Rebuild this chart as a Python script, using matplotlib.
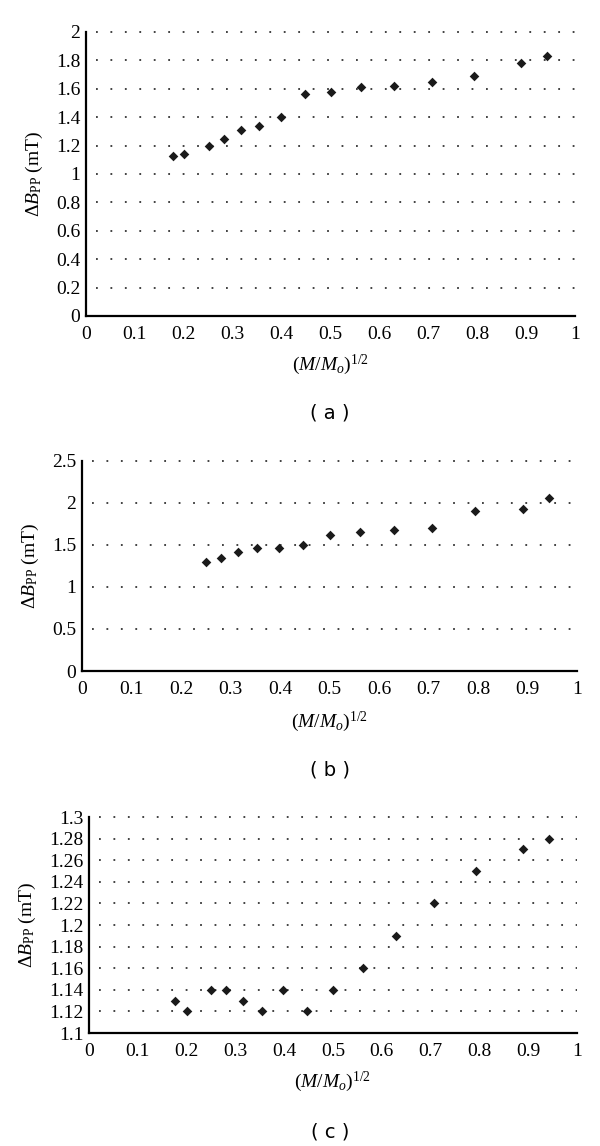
import matplotlib
matplotlib.use("Agg")
import matplotlib.pyplot as plt

plt.rcParams['font.family'] = ['Liberation Serif', 'DejaVu Serif']
plt.rcParams['mathtext.fontset'] = 'custom'
plt.rcParams['mathtext.rm'] = 'Liberation Serif'
plt.rcParams['mathtext.it'] = 'Liberation Serif:italic'
plt.rcParams['mathtext.bf'] = 'Liberation Serif:bold'

# Panel (a)
xa = [0.178, 0.200, 0.251, 0.282, 0.316, 0.354, 0.398, 0.447, 0.500, 0.562, 0.630, 0.707, 0.793, 0.890, 0.943]
ya = [1.13, 1.14, 1.20, 1.25, 1.31, 1.34, 1.40, 1.56, 1.58, 1.61, 1.62, 1.65, 1.69, 1.78, 1.83]
yticks_a = [0, 0.2, 0.4, 0.6, 0.8, 1, 1.2, 1.4, 1.6, 1.8, 2]
ylabels_a = ['0', '0.2', '0.4', '0.6', '0.8', '1', '1.2', '1.4', '1.6', '1.8', '2']

# Panel (b)
xb = [0.251, 0.281, 0.315, 0.354, 0.398, 0.446, 0.500, 0.562, 0.630, 0.707, 0.793, 0.890, 0.943]
yb = [1.30, 1.34, 1.42, 1.46, 1.47, 1.50, 1.62, 1.65, 1.68, 1.70, 1.90, 1.93, 2.06]
yticks_b = [0, 0.5, 1, 1.5, 2, 2.5]
ylabels_b = ['0', '0.5', '1', '1.5', '2', '2.5']

# Panel (c)
xc = [0.177, 0.200, 0.250, 0.281, 0.315, 0.354, 0.397, 0.446, 0.500, 0.561, 0.630, 0.707, 0.793, 0.890, 0.943]
yc = [1.13, 1.12, 1.14, 1.14, 1.13, 1.12, 1.14, 1.12, 1.14, 1.16, 1.19, 1.22, 1.25, 1.27, 1.28]
yticks_c = [1.1, 1.12, 1.14, 1.16, 1.18, 1.2, 1.22, 1.24, 1.26, 1.28, 1.3]
ylabels_c = ['1.1', '1.12', '1.14', '1.16', '1.18', '1.2', '1.22', '1.24', '1.26', '1.28', '1.3']

xticks = [0, 0.1, 0.2, 0.3, 0.4, 0.5, 0.6, 0.7, 0.8, 0.9, 1]
xlabels = ['0', '0.1', '0.2', '0.3', '0.4', '0.5', '0.6', '0.7', '0.8', '0.9', '1']

W, H = 600, 1146
fig = plt.figure(figsize=(W / 100, H / 100), dpi=100)

panels = [
    (xa, ya, yticks_a, ylabels_a, (86, 575, 32, 316), 365, 413, '( a )'),
    (xb, yb, yticks_b, ylabels_b, (82, 577, 461, 671), 722, 770, '( b )'),
    (xc, yc, yticks_c, ylabels_c, (89, 577, 817, 1033), 1082, 1132, '( c )'),
]

for x, y, yt, yl, (l, r, t, b), xlab_y, cap_y, cap in panels:
    ax = fig.add_axes([l / W, 1 - b / H, (r - l) / W, (b - t) / H])
    ax.scatter(x, y, marker='D', s=24, color='#1a1a1a', zorder=3, linewidths=0)
    ax.set_xlim(0, 1)
    ax.set_ylim(yt[0], yt[-1])
    ax.set_xticks(xticks)
    ax.set_xticklabels(xlabels)
    ax.set_yticks(yt)
    ax.set_yticklabels(yl)
    ax.tick_params(length=0, labelsize=14)
    ax.tick_params(axis='x', pad=7)
    ax.tick_params(axis='y', pad=4)
    for s in ['top', 'right']:
        ax.spines[s].set_visible(False)
    for s in ['left', 'bottom']:
        ax.spines[s].set_linewidth(1.6)
        ax.spines[s].set_color('black')
    for v in yt[1:]:
        ax.plot([0.02, 1.0], [v, v], linestyle=(0, (1, 7)), color='#333333',
                linewidth=1.3, clip_on=False, zorder=1)
    ax.set_ylabel(r'$\Delta\mathit{B}_{\mathrm{PP}}$ (mT)', fontsize=14, labelpad=8)
    fig.text((l + r) / 2 / W, 1 - xlab_y / H, r'$(\mathit{M}/\mathit{M}_{o})^{1/2}$',
             ha='center', va='center', fontsize=14)
    fig.text(330 / W, 1 - cap_y / H, cap, ha='center', va='center', fontsize=14,
             family='DejaVu Sans')

fig.savefig('out.png', dpi=100, facecolor='white')
